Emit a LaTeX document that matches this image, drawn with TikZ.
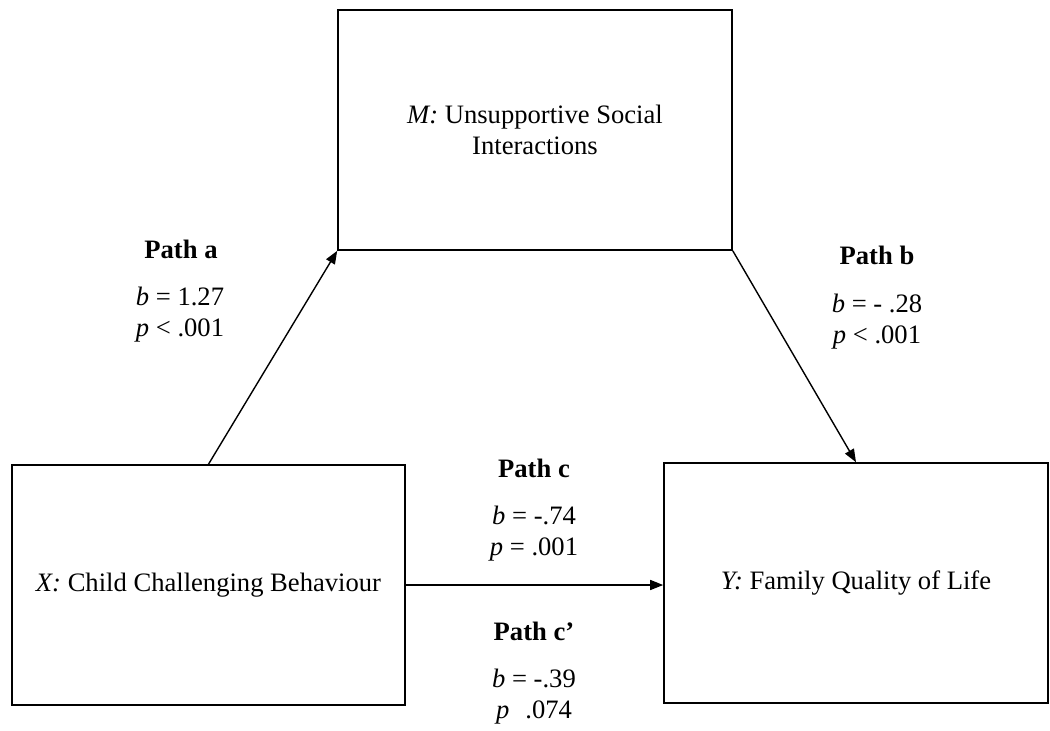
\documentclass[tikz,border=0pt]{standalone}
\usepackage{fontspec}
\setmainfont{Liberation Serif}
\usetikzlibrary{positioning,arrows.meta}

\begin{document}
\begin{tikzpicture}[x=0.5pt,y=-0.5pt,font=\fontsize{13.3}{15.5}\selectfont]
            \useasboundingbox (0,0) rectangle (1050,730);
            \begin{scope}[every node/.style={rectangle,draw=black,line width=0.8pt,align=center,inner sep=0pt,minimum height=120pt}]
                \node[minimum width=197pt] (M) at (535,130) {\textit{M:} Unsupportive Social\\Interactions};
                \node[minimum width=196.5pt] (X) at (208.5,585) {\textit{X:} Child Challenging Behaviour};
                \node[minimum width=192pt] (Y) at (856,583) {\textit{Y:} Family Quality of Life};
            \end{scope}

            \begin{scope}[>={Triangle[length=6.5pt,width=5pt]},
                          every edge/.style={draw=black,line width=0.7pt}]
                \path [->] (X.north) edge node {} (M.south west);
                \path [->] (M.south east) edge node {} (Y.north);
                \path [->] (X.east) edge node {} (X.east -| Y.west);
            \end{scope}

            \begin{scope}[every node/.style={align=center,inner sep=0pt}]
                \node[font=\fontsize{13.3}{15.5}\selectfont\bfseries] (pathA) at (181,249) {Path a};
                \node (statA) at (180,315) {\textit{b} = 1.27\\\textit{p} < .001};
                \node[font=\fontsize{13.3}{15.5}\selectfont\bfseries] (pathB) at (877,255) {Path b};
                \node (statB) at (877,322) {\textit{b} = - .28\\\textit{p} < .001};
                \node[font=\fontsize{13.3}{15.5}\selectfont\bfseries] (pathC) at (534,468) {Path c};
                \node (statC) at (534,534) {\textit{b} = -.74\\\textit{p} = .001};
                \node[font=\fontsize{13.3}{15.5}\selectfont\bfseries] (pathCp) at (534,631) {Path c’};
                \node (statCp) at (534,697) {\textit{b} = -.39\\\textit{p}\hspace{0.6em}.074};
            \end{scope}
        \end{tikzpicture}
\end{document}
